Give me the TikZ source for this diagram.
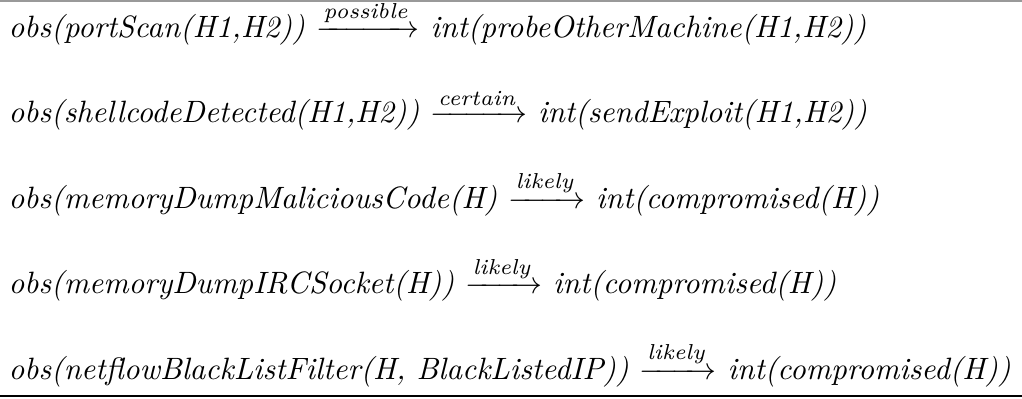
\documentclass[tikz,border=0pt]{standalone}
\usepackage{amsmath}

\newlength\rowwd
% italic label set over an arrow
\newcommand{\impl}[1]{$\xrightarrow{\textit{#1}}$}
% the five observation-to-intent rules
\newcommand{\ruleA}{\textit{obs(portScan(H1,H2)) \impl{possible} int(probeOtherMachine(H1,H2))}}
\newcommand{\ruleB}{\textit{obs(shellcodeDetected(H1,H2)) \impl{certain} int(sendExploit(H1,H2))}}
\newcommand{\ruleC}{\textit{obs(memoryDumpMaliciousCode(H) \impl{likely} int(compromised(H))}}
\newcommand{\ruleD}{\textit{obs(memoryDumpIRCSocket(H)) \impl{likely} int(compromised(H))}}
\newcommand{\ruleE}{\textit{obs(netflowBlackListFilter(H, BlackListedIP)) \impl{likely} int(compromised(H))}}

\begin{document}
% size the text so that the widest rule fills the table
\settowidth{\rowwd}{\ruleE}%
\pgfmathsetmacro{\txtscale}{1002*0.408pt/\rowwd}%
\begin{tikzpicture}[x=0.408pt,y=0.408pt,
    rulerow/.style={anchor=base west, inner sep=0pt, scale=\txtscale}]
  \useasboundingbox (0,0) rectangle (1022,-398);

  % table rules
  \draw[gray!80, line width=0.6pt] (0,-0.8) -- (1022,-0.8);
  \draw[black, line width=0.75pt] (0,-395.8) -- (1022,-395.8);

  % rows
  \node[rulerow] (r1) at (8,-37)    {\ruleA};
  \node[rulerow] (r2) at (8,-122.5) {\ruleB};
  \node[rulerow] (r3) at (8,-208)   {\ruleC};
  \node[rulerow] (r4) at (8,-293.5) {\ruleD};
  \node[rulerow] (r5) at (8,-379)   {\ruleE};
\end{tikzpicture}
\end{document}
